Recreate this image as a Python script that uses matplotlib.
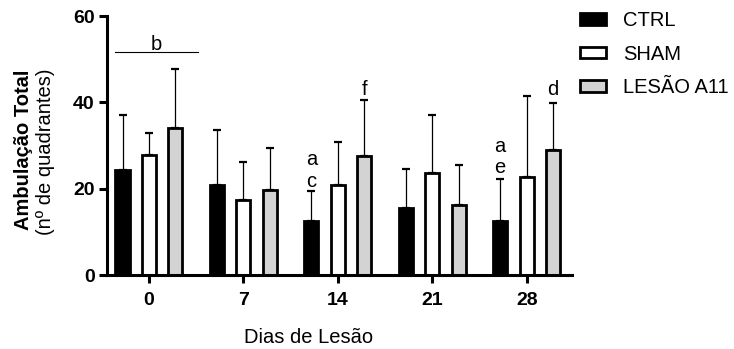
import matplotlib
matplotlib.use("Agg")
import matplotlib.pyplot as plt
import numpy as np

plt.rcParams["font.family"] = ["Liberation Sans", "DejaVu Sans"]

days = ["0", "7", "14", "21", "28"]
groups = ["CTRL", "SHAM", "LESÃO A11"]
ctrl_mean = [24.4, 20.8, 12.5, 15.6, 12.5]
ctrl_err = [12.7, 12.9, 7.0, 9.0, 9.7]
sham_mean = [27.8, 17.3, 20.8, 23.7, 22.7]
sham_err = [5.2, 8.9, 10.0, 13.4, 18.8]
lesao_mean = [34.0, 19.7, 27.5, 16.3, 28.9]
lesao_err = [13.8, 9.8, 13.0, 9.1, 10.9]
colors = ["black", "white", "#d3d3d3"]

fig = plt.figure(figsize=(7.34, 3.49), dpi=100)
ax = fig.add_axes([0.1458, 0.212, 0.633, 0.742])

x = np.arange(len(days))
offsets = [-0.28, 0.0, 0.28]
width = 0.15
for means, errs, off, col, lab in zip([ctrl_mean, sham_mean, lesao_mean],
                                      [ctrl_err, sham_err, lesao_err],
                                      offsets, colors, groups):
    ax.bar(x + off, means, width, color=col, edgecolor="black", linewidth=2.0, label=lab, zorder=2)
    ax.errorbar(x + off, means, yerr=[np.zeros(len(errs)), errs], fmt="none",
                ecolor="black", elinewidth=0.9, capsize=3, capthick=1.6, zorder=1)

# significance letters
ax.plot([-0.36, 0.52], [51.7, 51.7], color="black", linewidth=0.8)
ax.text(0.08, 52.1, "b", ha="center", va="baseline", fontsize=14.5)
ax.text(2 - 0.28, 20.4, "c", ha="center", va="baseline", fontsize=14.5)
ax.text(2 - 0.28, 25.4, "a", ha="center", va="baseline", fontsize=14.5)
ax.text(2 + 0.28, 41.7, "f", ha="center", va="baseline", fontsize=14.5)
ax.text(4 - 0.28, 23.6, "e", ha="center", va="baseline", fontsize=14.5)
ax.text(4 - 0.28, 28.4, "a", ha="center", va="baseline", fontsize=14.5)
ax.text(4 + 0.28, 41.7, "d", ha="center", va="baseline", fontsize=14.5)

ax.set_xlim(-0.444, 4.476)
ax.set_ylim(0, 60)
ax.set_yticks([0, 20, 40, 60])
ax.set_xticks(x)
ax.set_xticklabels(days)
for lbl in ax.get_xticklabels() + ax.get_yticklabels():
    lbl.set_fontweight("bold")
    lbl.set_fontsize(14)
ax.tick_params(axis="both", width=2.2, length=6, direction="out")
ax.tick_params(axis="y", pad=3)
ax.tick_params(axis="x", pad=6)
for s in ["top", "right"]:
    ax.spines[s].set_visible(False)
for s in ["left", "bottom"]:
    ax.spines[s].set_linewidth(2.2)

fig.text(0.421, 0.034, "Dias de Lesão", ha="center", va="center", fontsize=14.5)
fig.text(0.032, 0.570, "Ambulação Total", rotation=90, ha="center", va="center",
         fontsize=14.5, fontweight="bold")
fig.text(0.062, 0.566, "(nº de quadrantes)", rotation=90, ha="center", va="center",
         fontsize=14.5)

ax.legend(loc="upper left", bbox_to_anchor=(0.790, 0.968), bbox_transform=fig.transFigure,
          frameon=False, fontsize=14.5, handlelength=1.3, handleheight=0.5,
          labelspacing=0.72, borderaxespad=0, borderpad=0, handletextpad=0.85)

fig.savefig("out.png", dpi=100)
